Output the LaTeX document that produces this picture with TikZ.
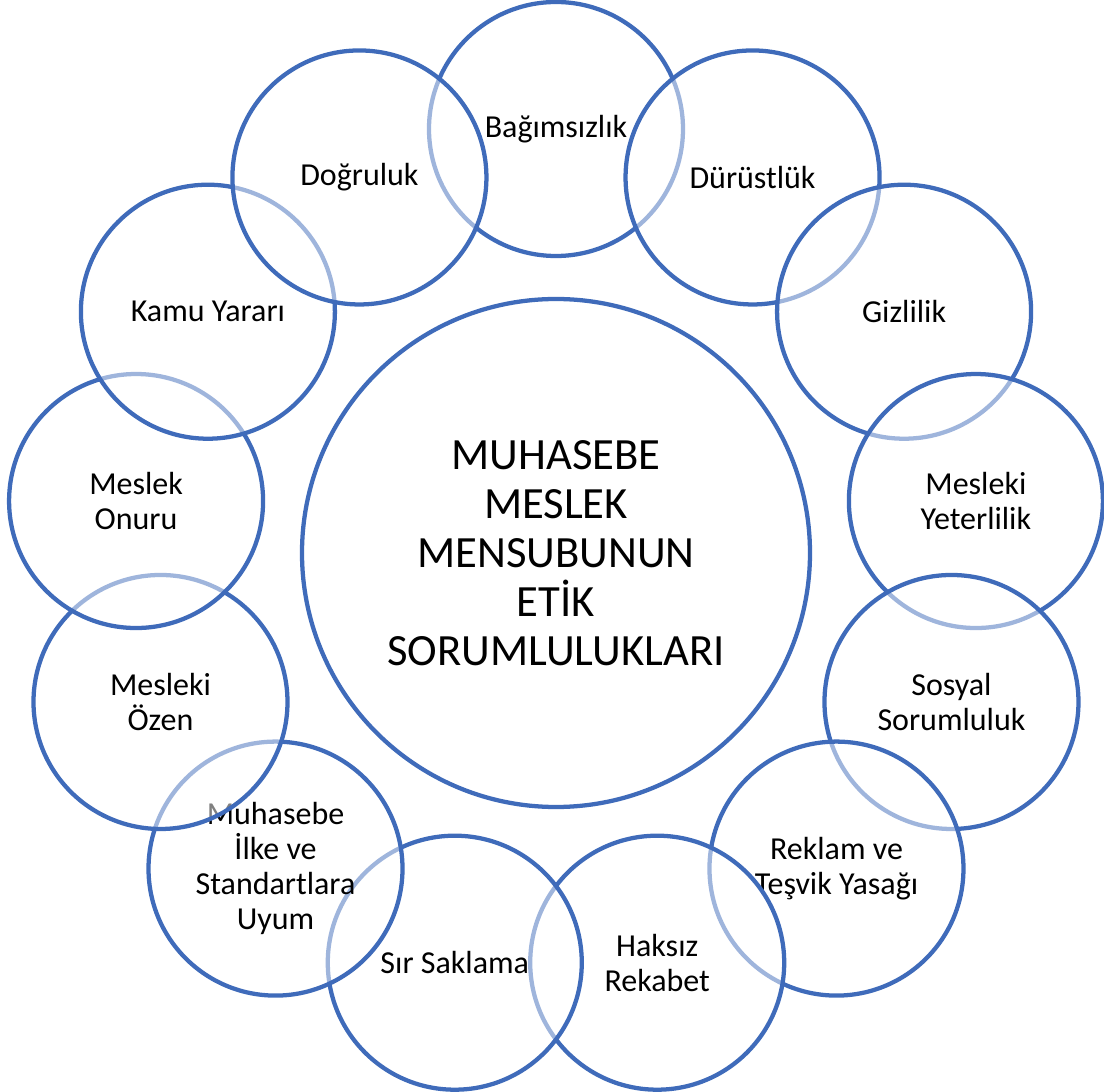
\documentclass[tikz,border=0pt]{standalone}
\usepackage{fontspec}
\setmainfont{Carlito}
\definecolor{halka}{HTML}{3F6BBA}

\begin{document}
\begin{tikzpicture}[x=0.75pt, y=0.75pt, line width=3.2pt,
    daire/.style={circle, draw=halka, fill=white, fill opacity=0.5, text opacity=1,
        inner sep=0pt, minimum size=190.5pt, align=center,
        font=\fontsize{24}{26.25}\selectfont},
    merkezdaire/.style={circle, draw=halka, fill=white, inner sep=0pt,
        minimum size=381pt, align=center, font=\fontsize{33.5}{36.75}\selectfont}]
    \useasboundingbox (-556,-540) rectangle (548,552);

    % Merkez
    \node[merkezdaire] (merkez) at (0,-1) {MUHASEBE\\MESLEK\\MENSUBUNUN\\ETİK\\SORUMLULUKLARI};

    % Halka (saat yonunde, sirayla ust uste)
    \foreach \ad [count=\i from 0] in {Bağımsızlık, Dürüstlük, Gizlilik, Mesleki\\Yeterlilik,
        Sosyal\\Sorumluluk, Reklam ve\\Teşvik Yasağı, Haksız\\Rekabet, Sır Saklama,
        Muhasebe\\İlke ve\\Standartlara\\Uyum, Mesleki\\Özen, Meslek\\Onuru, Kamu Yararı, Doğruluk}
        \node[daire] (c\i) at ({90-\i*360/13}:423) {\ad};
\end{tikzpicture}
\end{document}
